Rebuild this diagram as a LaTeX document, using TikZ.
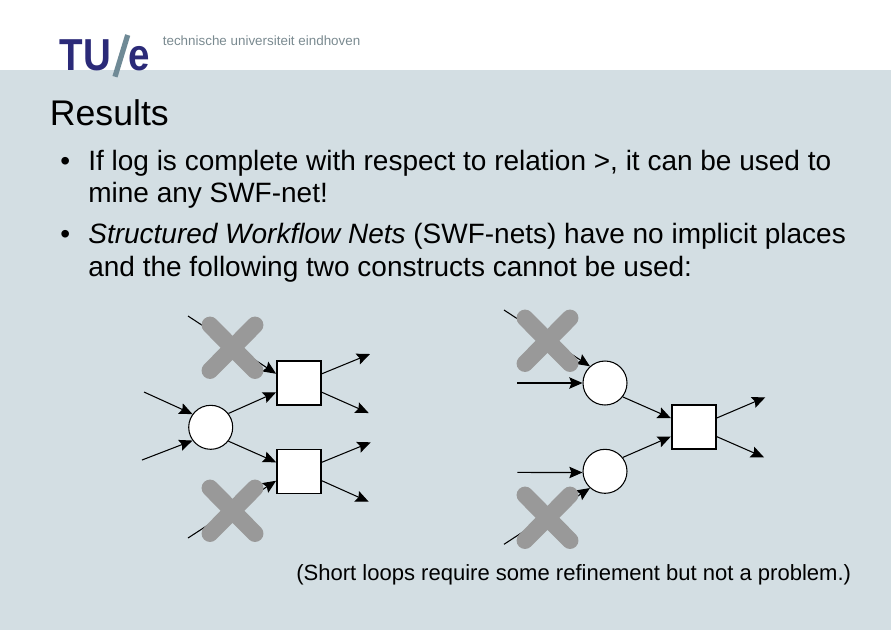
\documentclass[tikz,border=0pt]{standalone}
\usepackage{fontspec}
\usepackage{xcolor}
\setmainfont{Liberation Sans}
\usetikzlibrary{arrows.meta}
\definecolor{bandblue}{HTML}{D3DEE3}
\definecolor{tuenavy}{HTML}{2B2A78}
\definecolor{tueslate}{HTML}{6F8A96}
\definecolor{tuegrey}{HTML}{7A8A90}
\definecolor{crossgrey}{HTML}{999999}
\newcommand{\bodyfont}{\fontsize{15.93}{18}\selectfont}
\tikzset{
  place/.style={circle,draw,fill=white,line width=.6pt,minimum size=.88cm,inner sep=0pt},
  trans/.style={rectangle,draw,fill=white,line width=1pt,minimum size=.88cm,inner sep=0pt},
  flow/.style={line width=.6pt,-{Stealth[length=7.5pt,width=6.5pt,inset=1.2pt]}},
  xmark/.style={crossgrey,line width=9.6pt,line cap=round},
  textline/.style={anchor=base west,inner sep=0pt,font=\bodyfont},
  logoname/.style={anchor=base west,inner sep=0pt,text=tuenavy,xscale=.86,font=\fontsize{25.5}{26}\selectfont\bfseries},
}
\begin{document}
\begin{tikzpicture}[x=.02cm,y=-.02cm]
\useasboundingbox (0,0) rectangle (891,630);
\fill[bandblue] (0,70) rectangle (891,630);
% logo
\node[logoname] (logotu) at (59.5,70) {TU};
\node[logoname] (logoe) at (128,70) {e};
\draw[tueslate,line width=3pt] (127.7,35) -- (115,76.7);
\node[anchor=base west,inner sep=0pt,text=tuegrey,font=\fontsize{7.63}{9}\selectfont] (logotext) at (162.5,45.5) {technische universiteit eindhoven};
% text
\node[anchor=base west,inner sep=0pt,font=\fontsize{20.3}{24}\selectfont] (title) at (49.5,125) {Results};
\node[textline] (bullet1) at (60,170) {•};
\node[textline] (line1) at (88,170) {If log is complete with respect to relation >, it can be used to};
\node[textline] (line2) at (88,202.2) {mine any SWF-net!};
\node[textline] (bullet2) at (60,243.2) {•};
\node[textline] (line3) at (88,243.2) {\textit{Structured Workflow Nets} (SWF-nets) have no implicit places};
\node[textline] (line4) at (88,276.2) {and the following two constructs cannot be used:};
\node[textline,font=\fontsize{12.54}{15}\selectfont] (note) at (296,580) {(Short loops require some refinement but not a problem.)};
%
% left net
\node[place] (p1) at (210.7,427.3) {};
\node[trans] (t1) at (299,383) {};
\node[trans] (t2) at (299,471.5) {};
\coordinate (a1) at (188,316);
\coordinate (a2) at (144,392);
\coordinate (a3) at (142,460);
\coordinate (a4) at (188,538);
\coordinate (b1) at (370,354);
\coordinate (b2) at (368.7,413);
\coordinate (b3) at (370.7,442.3);
\coordinate (b4) at (368.7,501.7);
\draw[flow] (a1) -- (t1.158);
\draw[flow] (a2) -- (p1.144);
\draw[flow] (a3) -- (p1.216);
\draw[flow] (a4) -- (t2.202);
\draw[flow] (p1.38) -- (t1.202);
\draw[flow] (p1.-38) -- (t2.158);
\draw[flow] (t1.22) -- (b1);
\draw[flow] (t1.-22) -- (b2);
\draw[flow] (t2.22) -- (b3);
\draw[flow] (t2.-22) -- (b4);
\draw[xmark] (210,325) -- (255,370.5) (255,325) -- (210,370.5);
\draw[xmark] (210,488) -- (255,533.5) (255,488) -- (210,533.5);
%
% right net
\node[place] (p2) at (605,383) {};
\node[place] (p3) at (605,471.3) {};
\node[trans] (t3) at (693.7,427.3) {};
\coordinate (c1) at (504,310);
\coordinate (c2) at (517.3,383);
\coordinate (c3) at (517.3,472.45);
\coordinate (c4) at (504,544.3);
\coordinate (d1) at (765.3,397.3);
\coordinate (d2) at (764,457.3);
\draw[flow] (c1) -- (p2.132);
\draw[flow] (c2) -- (p2.west);
\draw[flow] (c3) -- (p3.183);
\draw[flow] (c4) -- (p3.228);
\draw[flow] (p2.-38) -- (t3.158);
\draw[flow] (p3.38) -- (t3.202);
\draw[flow] (t3.22) -- (d1);
\draw[flow] (t3.-22) -- (d2);
\draw[xmark] (525,318) -- (570,363.5) (570,318) -- (525,363.5);
\draw[xmark] (525,495) -- (570,540.5) (570,495) -- (525,540.5);
\end{tikzpicture}
\end{document}
